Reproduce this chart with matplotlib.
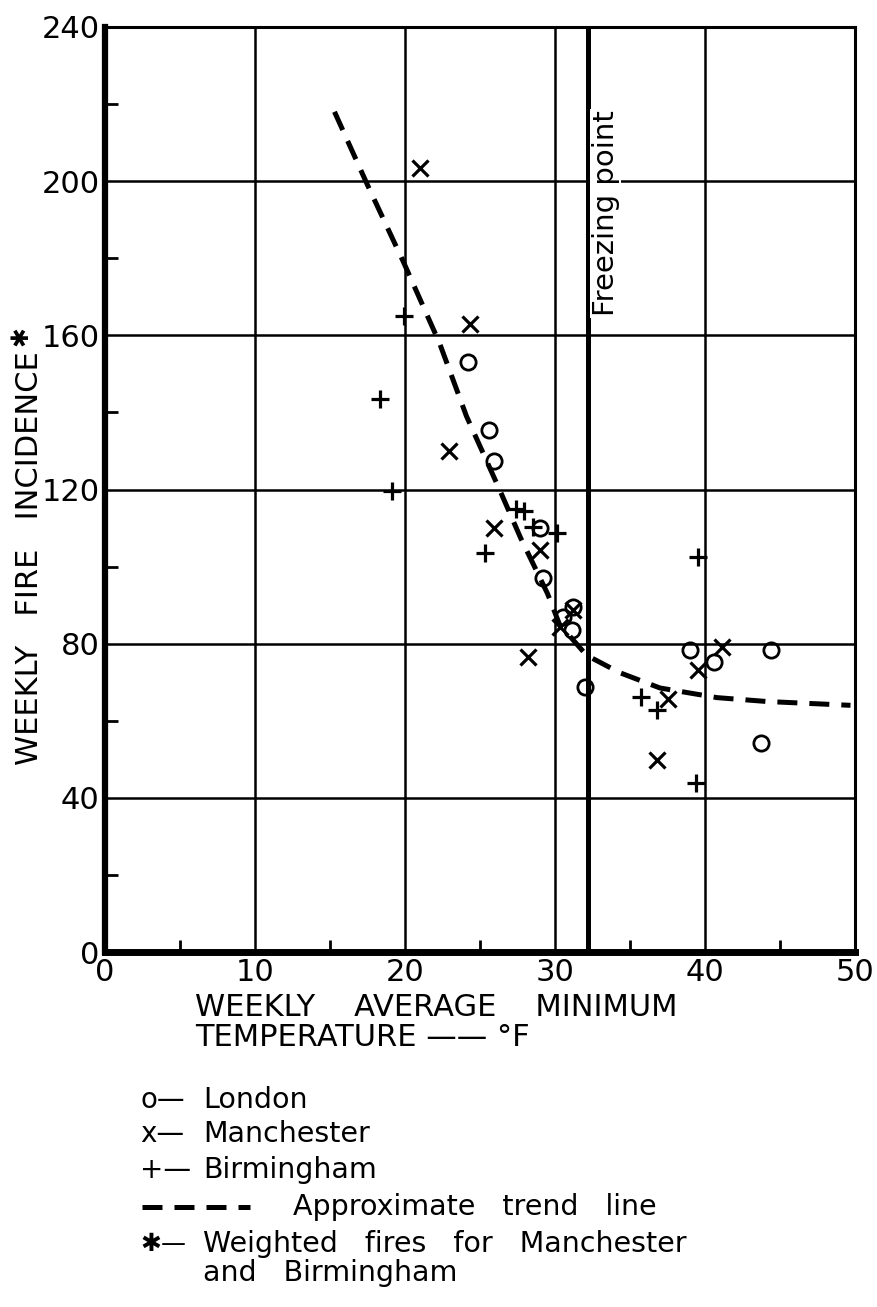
import matplotlib
matplotlib.use("Agg")
import matplotlib.pyplot as plt
from matplotlib.lines import Line2D

plt.rcParams['font.family'] = ['DejaVu Sans']

# weekly average minimum temperature (F) and weekly fire incidence
london_t = [24.2, 25.6, 25.9, 29.0, 29.2, 31.2, 30.5, 31.1, 32.0, 39.0, 40.6, 44.4, 43.7]
london_f = [153, 135.5, 127.5, 110, 97, 89.6, 86.8, 83.6, 68.8, 78.4, 75.3, 78.4, 54.3]

manch_t = [21.0, 24.3, 22.9, 25.9, 29.0, 28.2, 31.2, 30.3, 41.1, 39.5, 37.5, 36.8]
manch_f = [203.5, 163, 130, 110, 104.4, 76.6, 88.8, 84.4, 79.2, 73.2, 65.7, 49.9]

birm_t = [19.9, 18.3, 19.1, 25.3, 27.4, 27.9, 28.5, 30.1, 39.5, 35.7, 36.8, 39.4]
birm_f = [165, 143.6, 119.5, 103.6, 115, 114.5, 110.4, 108.8, 102.6, 66.2, 62.9, 43.9]

trend_t = [15.3, 17.5, 19.9, 22.3, 24.1, 26.3, 27.7, 29.5, 30.3, 32.1, 34.3, 37.0, 40.8, 44.1, 49.7]
trend_f = [218, 199, 179, 158, 139, 120, 107.5, 93, 85, 77, 72.5, 68.5, 66, 65, 64]

freezing = 32.2
x_ticks = [0, 10, 20, 30, 40, 50]
y_ticks = [0, 40, 80, 120, 160, 200, 240]

W, H = 877, 1307
fig = plt.figure(figsize=(W / 100, H / 100), dpi=100)
ax = fig.add_axes([105 / W, 1 - 952 / H, 750 / W, 925 / H])

ax.set_xlim(0, 50)
ax.set_ylim(0, 240)
ax.set_xticks(x_ticks)
ax.set_yticks(y_ticks)
ax.set_xticks([5, 15, 25, 35, 45], minor=True)
ax.set_yticks([20, 60, 100, 140, 180, 220], minor=True)
ax.tick_params(which='major', length=0, labelsize=22, pad=4)
ax.tick_params(which='minor', direction='in', length=9, width=2, color='black')
ax.grid(True, which='major', color='black', linewidth=1.8)

for side, lw in [('left', 4.5), ('bottom', 5), ('top', 2.2), ('right', 2.2)]:
    ax.spines[side].set_linewidth(lw)
    ax.spines[side].set_color('black')

ax.axvline(freezing, color='black', linewidth=3.6)
ax.text(freezing + 0.25, 165, 'Freezing point', rotation=90, ha='left', va='bottom',
        fontsize=21, bbox=dict(facecolor='white', edgecolor='none', pad=1))

dash = (0, (4, 2.4))
ax.plot(trend_t, trend_f, color='black', linestyle=dash, linewidth=3.6, zorder=3)
ax.plot(london_t, london_f, 'o', markersize=11, markerfacecolor='none',
        markeredgecolor='black', markeredgewidth=2, zorder=4)
ax.plot(manch_t, manch_f, 'x', markersize=12, color='black', markeredgewidth=2.3, zorder=4)
ax.plot(birm_t, birm_f, '+', markersize=13, color='black', markeredgewidth=2.3, zorder=4)

# axis titles
fig.text(30 / W, 1 - 765 / H, 'WEEKLY   FIRE   INCIDENCE', rotation=90,
         ha='center', va='bottom', fontsize=22)
fig.text(20 / W, 1 - 336 / H, '\u2731', rotation=90, ha='center', va='center', fontsize=17)
fig.text(195 / W, 1 - 1008 / H, 'WEEKLY    AVERAGE    MINIMUM', ha='left', va='center', fontsize=22)
fig.text(195 / W, 1 - 1038 / H, 'TEMPERATURE \u2014\u2014 \u00b0F', ha='left', va='center', fontsize=22)

# key below the chart
key_sym = ['o\u2014', 'x\u2014', '+\u2014']
key_lab = ['London', 'Manchester', 'Birmingham']
key_y = [1100, 1134, 1170]
for sym, lab, y in zip(key_sym, key_lab, key_y):
    fig.text(140 / W, 1 - y / H, sym, ha='left', va='center', fontsize=20)
    fig.text(203 / W, 1 - y / H, lab, ha='left', va='center', fontsize=20.5)
fig.add_artist(Line2D([142 / W, 250 / W], [1 - 1207 / H, 1 - 1207 / H], color='black',
                      linestyle=dash, linewidth=3.6))
fig.text(293 / W, 1 - 1207 / H, 'Approximate   trend   line', ha='left', va='center', fontsize=20.5)
fig.text(140 / W, 1 - 1244 / H, '\u2731\u2014', ha='left', va='center', fontsize=18)
fig.text(203 / W, 1 - 1244 / H, 'Weighted   fires   for   Manchester', ha='left', va='center',
         fontsize=20.5)
fig.text(203 / W, 1 - 1273 / H, 'and   Birmingham', ha='left', va='center', fontsize=20.5)

fig.savefig('out.png', dpi=100)
